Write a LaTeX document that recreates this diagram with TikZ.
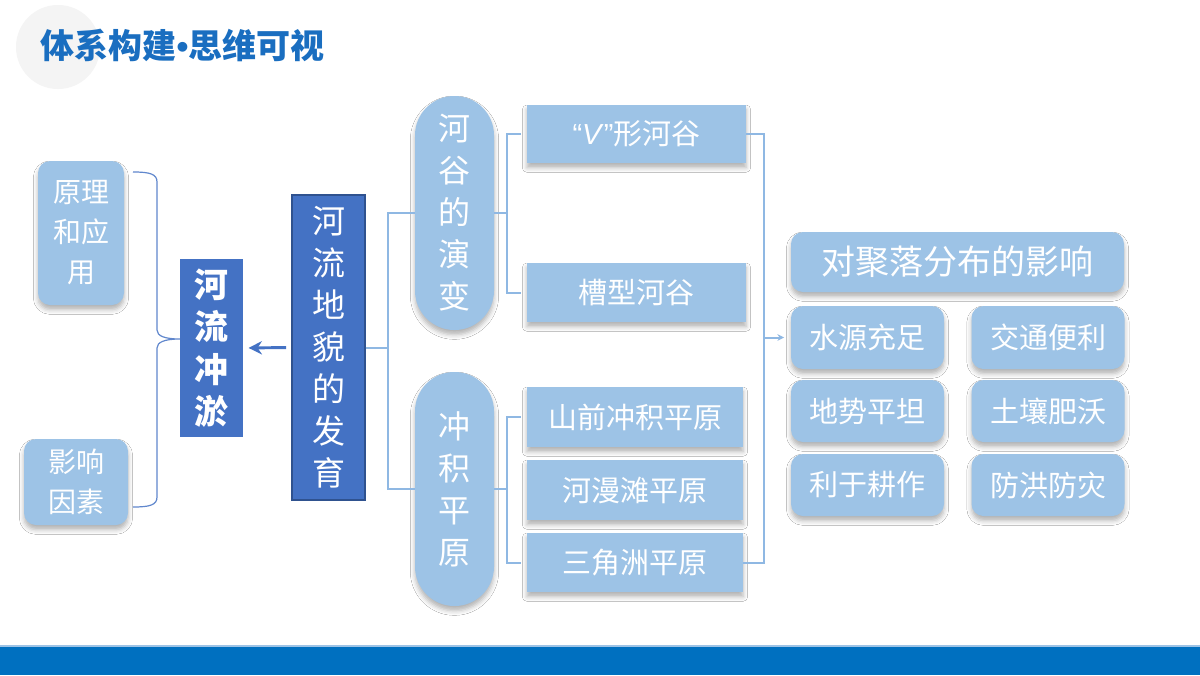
\documentclass[tikz,border=0pt]{standalone}
\usepackage{fontspec}
\setmainfont{Noto Sans CJK SC}
\newfontfamily\latf{Liberation Sans}
\usetikzlibrary{shadows.blur,arrows.meta}
\newdimen\pxu \pxu=0.75pt
\definecolor{lb}{HTML}{9DC3E6}
\definecolor{db}{HTML}{4472C4}
\definecolor{dbb}{HTML}{2F528F}
\definecolor{ln}{HTML}{8FB8E3}
\definecolor{tb}{HTML}{1A6EC0}
\definecolor{bar}{HTML}{0070C0}
\begin{document}
\begin{tikzpicture}[x=0.75pt,y=-0.75pt,
  sh/.style={blur shadow={shadow xshift=0pt,shadow yshift=-3.5pt,shadow blur radius=3.5pt,shadow opacity=30}},
  lbox/.style={sh,fill=lb,text=white,inner sep=0pt,align=center},
  rbox/.style={lbox,rounded corners=9pt},
  pill/.style={lbox,minimum width=79\pxu,minimum height=234\pxu,rounded corners=29.5pt,
     font=\fontsize{32\pxu}{42\pxu}\selectfont},
  sbox/.style={lbox,font=\fontsize{29\pxu}{34\pxu}\selectfont},
  gbox/.style={rbox,minimum width=153\pxu,minimum height=62\pxu,font=\fontsize{29\pxu}{34\pxu}\selectfont},
  dbox/.style={fill=db,text=white,inner sep=0pt,align=center},
  conn/.style={draw=ln,line width=1.5pt},
  ttl/.style={anchor=west,font=\fontsize{34\pxu}{34\pxu}\bfseries\selectfont},
]
\useasboundingbox (0,0) rectangle (1200,675);
\fill[white] (0,0) rectangle (1200,675);
% decoration top-left
\fill[gray!9] (58,47) circle (42);
\node[ttl,text=tb] (title) at (36,45) {体系构建{\latf\bfseries •}思维可视};
% bottom bar
\fill[bar] (0,647) rectangle (1200,675);
\draw[lb,line width=1pt] (0,646) -- (1200,646);

% left boxes
\node[rbox,minimum width=86\pxu,minimum height=144\pxu,font=\fontsize{28\pxu}{40\pxu}\selectfont] (yl) at (81,233) {原理\\和应\\用};
\node[rbox,minimum width=104\pxu,minimum height=86\pxu,font=\fontsize{28\pxu}{40\pxu}\selectfont] (yx) at (76,482) {影响\\因素};
\node[dbox,minimum width=63\pxu,minimum height=178\pxu,font=\fontsize{34\pxu}{42.5\pxu}\bfseries\selectfont] (lc) at (211.5,348) {河\\流\\冲\\淤};
\node[dbox,draw=dbb,line width=0.8pt,minimum width=73\pxu,minimum height=305\pxu,font=\fontsize{33\pxu}{42\pxu}\selectfont] (hf) at (328.5,347.5) {河\\流\\地\\貌\\的\\发\\育};

% pills
\node[pill] (hg) at (454.5,213) {河\\谷\\的\\演\\变};
\node[pill] (cj) at (454.5,489) {冲\\积\\平\\原};

% second level
\node[sbox,minimum width=219\pxu,minimum height=58\pxu] (v) at (636.5,134) {{\latf “\textit{V}”}形河谷};
\node[sbox,minimum width=219\pxu,minimum height=59\pxu] (cx) at (636.5,292.5) {槽型河谷};
\node[sbox,minimum width=216\pxu,minimum height=60\pxu] (sq) at (635,417) {山前冲积平原};
\node[sbox,minimum width=216\pxu,minimum height=60\pxu] (hm) at (635,490) {河漫滩平原};
\node[sbox,minimum width=216\pxu,minimum height=59\pxu] (sj) at (635,562.5) {三角洲平原};

% right side
\node[rbox,minimum width=333\pxu,minimum height=60\pxu,font=\fontsize{34\pxu}{40\pxu}\selectfont] (jl) at (957.5,262) {对聚落分布的影响};
\node[gbox,minimum height=63\pxu] (ys) at (867.5,337.5) {水源充足};
\node[gbox,minimum height=63\pxu] (jt) at (1048,337.5) {交通便利};
\node[gbox] (ds) at (867.5,411) {地势平坦};
\node[gbox] (tr) at (1048,411) {土壤肥沃};
\node[gbox] (lg) at (867.5,485) {利于耕作};
\node[gbox] (fh) at (1048,485) {防洪防灾};

% brace
\draw[db!85,line width=0.9pt] (133,172) .. controls (150,172) and (157,174) .. (157,182) -- (157,330)
   .. controls (157,336) and (165,339) .. (lc.west |- 0,339)
   .. controls (165,339) and (157,342) .. (157,348) -- (157,497)
   .. controls (157,505) and (150,507) .. (133,507);

% arrow to 河流冲淤
\draw[db,line width=2.2pt,shorten <=4pt,shorten >=4pt,-{Stealth[length=10pt,width=10pt]}] (hf.west) -- (lc.east);

% brackets
\draw[conn] (hf.east) -- ++(22,0) coordinate (b1) |- (hg.west);
\draw[conn] (b1) |- (cj.west);
\draw[conn,shorten >=4pt] (hg.east) -- ++(13,0) coordinate (b2) |- (v.west);
\draw[conn,shorten >=4pt] (b2) |- (cx.west);
\draw[conn,shorten >=4pt] (cj.east) -- ++(13,0) coordinate (b3) |- (sq.west);
\draw[conn,shorten >=4pt] (b3) |- (sj.west);
\draw[conn] (v.east) -- ++(18,0) coordinate (rt) |- (sj.east);
\draw[conn,shorten >=5pt,-{Stealth[length=5pt,width=5pt]}] (rt |- ys.west) -- (ys.west);
\end{tikzpicture}
\end{document}
